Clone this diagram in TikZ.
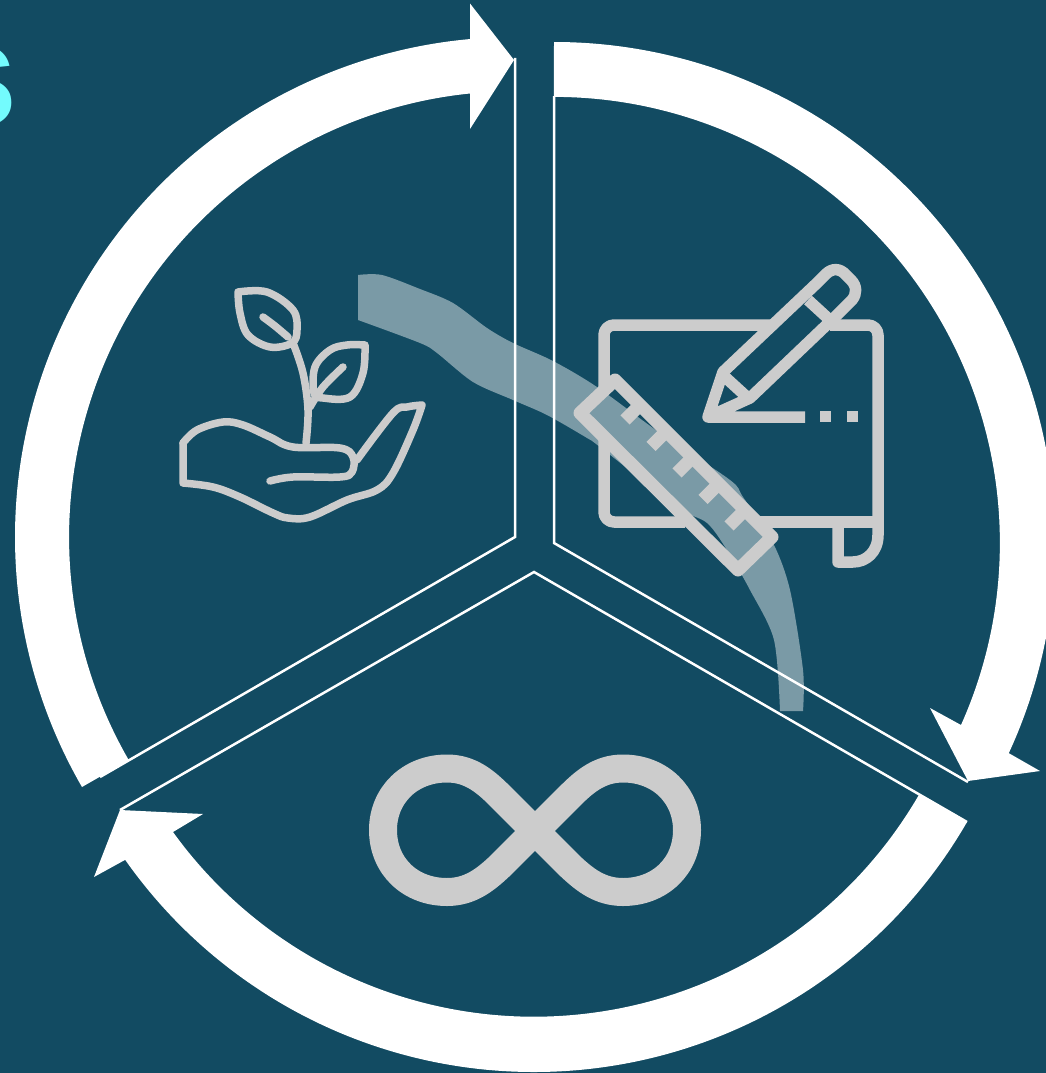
\documentclass[tikz,border=0pt]{standalone}
\usepackage{fontspec}
\setmainfont{Liberation Sans}
\definecolor{deepbg}{HTML}{124B62}
\definecolor{iconGray}{HTML}{CCCCCC}
\definecolor{letterCyan}{HTML}{73FBFD}
\begin{document}
\begin{tikzpicture}[
  x=1pt,y=1pt,
  ring/.style={fill=white},
  rim/.style={draw=white,line width=2.5pt},
  ribbon/.style={fill=white,fill opacity=.44},
  thinicon/.style={draw=iconGray,line width=7.5pt,line cap=round,line join=round},
  wideicon/.style={draw=iconGray,line width=11.5pt,line join=round},
  rulericon/.style={draw=iconGray,line width=13pt,line join=round},
  looplike/.style={draw=iconGray,line width=28pt,line join=round}
]
\useasboundingbox (0,0) rectangle (1046,-1073);
\fill[deepbg] (0,0) rectangle (1046,-1073);
\coordinate (cL) at (515,-537);
\coordinate (cR) at (554,-543);
\coordinate (cB) at (534,-572);
\node[anchor=base east,inner sep=0pt,text=letterCyan,font=\fontsize{152}{152}\selectfont\bfseries] (endletter) at (18.5,-126) {s};
\fill[ring] (cL) ++(210:500) arc[start angle=210,end angle=95.16,radius=500] -- (470,-3.5) -- (514,-60) -- (470,-129) -- (470,-93.5) arc[start angle=95.8,end angle=210,radius=446] -- cycle;
\fill[ring] (cR) ++(90:501) arc[start angle=90,end angle=-24.8,radius=501] -- (1040,-771) -- (968,-781) -- (930,-708) -- (961,-725) arc[start angle=-24.1,end angle=90,radius=446] -- cycle;
\fill[ring] (cB) ++(-30:500) arc[start angle=-30,end angle=-144.85,radius=500] -- (94,-877) -- (120,-810) -- (203,-814) -- (173,-832) arc[start angle=-144.2,end angle=-30,radius=445] -- cycle;
\coordinate (topL) at (515,-58);
\coordinate (endL) at (100,-777);
\coordinate (topR) at (554,-96);
\coordinate (endR) at (968,-782);
\coordinate (endB) at (120,-810);
\coordinate (endC) at (967,-822);
\draw[rim] (topL) -- (cL) -- (endL);
\draw[rim] (topR) -- (cR) -- (endR);
\draw[rim] (endB) -- (cB) -- (endC);
\fill[ribbon] plot[smooth,tension=.5] coordinates {(358,-275) (382,-275) (420,-289) (453,-303) (487,-328) (513,-343) (553,-361) (597,-387) (660,-433) (730,-480) (743,-497) (773,-543) (790,-590) (803,-670) (803,-711)} -- plot[smooth,tension=.5] coordinates {(780,-711) (774,-640) (750,-590) (727,-550) (707,-523) (677,-507) (600,-447) (587,-438) (547,-415) (513,-400) (473,-382) (437,-353) (420,-343) (358,-320)} -- cycle;
\draw[thinicon] plot[smooth,tension=.6] coordinates {(183,-443) (197,-430) (223,-422) (243,-425) (270,-437) (293,-447) (340,-448) (353,-457) (352,-472) (340,-477) (293,-477) (270,-481)};
\draw[thinicon] plot[smooth,tension=.6] coordinates {(357,-460) (393,-413) (407,-407) (422,-405)} plot[smooth,tension=.6] coordinates {(422,-405) (413,-430) (393,-473) (377,-490) (347,-500) (310,-517) (288,-518) (273,-513) (240,-497) (213,-487) (183,-483)} -- (183,-443);
\draw[thinicon] plot[smooth,tension=.6] coordinates {(306,-443) (308,-410) (303,-373) (293,-343)};
\draw[thinicon] plot[smooth,tension=.6] coordinates {(238,-292) (267,-292) (293,-310) (297,-330) (292,-343) (270,-347) (248,-335) (240,-313) (238,-292)};
\draw[thinicon] plot[smooth,tension=.6] coordinates {(263,-317) (275,-326) (288,-337)};
\draw[thinicon] plot[smooth,tension=.6] coordinates {(365,-345) (363,-373) (350,-397) (323,-398) (314,-393) (315,-367) (330,-350) (347,-345) (365,-345)};
\draw[thinicon] plot[smooth,tension=.6] coordinates {(310,-407) (323,-387) (343,-367)};
\draw[wideicon,rounded corners=10pt] (604,-392) -- (604,-325) -- (775,-325);
\draw[wideicon,rounded corners=10pt] (604,-440) -- (604,-522) -- (685,-522);
\draw[wideicon,rounded corners=10pt] (830,-325) -- (878,-325) -- (878,-522);
\draw[wideicon] (760,-522) -- (878,-522);
\draw[wideicon] (878,-522) -- (878,-535) .. controls (878,-552) and (866,-562) .. (853,-562) -- (838,-562) -- (838,-522);
\draw[wideicon] (805,-417) -- (708,-417) -- (723,-372) -- (817,-283) -- (826,-274) .. controls (832,-268) and (840,-268) .. (846,-275) -- (851,-280) .. controls (857,-286) and (857,-294) .. (852,-300) -- (837,-315) -- (750,-398) -- (708,-417);
\draw[wideicon] (808,-300) -- (832,-322);
\draw[wideicon] (725,-377) -- (748,-398);
\foreach \dotx in {820,847}
  \fill[iconGray] (\dotx,-411) rectangle ++(11,-11);
\draw[rulericon] (580,-413) -- (615,-380) -- (772,-537) -- (738,-570) -- cycle;
\foreach \k in {0,...,4}
  \draw[rulericon] (625+26*\k,-420-26.5*\k) -- ++(13,13);
\draw[looplike] (535,-831) -- (570,-796) .. controls (585,-781) and (600,-768.5) .. (623,-768.5) .. controls (660,-768.5) and (687,-795) .. (687,-830) .. controls (687,-866) and (660,-892) .. (623,-892) .. controls (600,-892) and (585,-880) .. (570,-866) -- (500,-796) .. controls (485,-781) and (470,-768.5) .. (447,-768.5) .. controls (410,-768.5) and (383,-795) .. (383,-830) .. controls (383,-866) and (410,-892) .. (447,-892) .. controls (470,-892) and (485,-880) .. (500,-866) -- cycle;
\end{tikzpicture}
\end{document}
